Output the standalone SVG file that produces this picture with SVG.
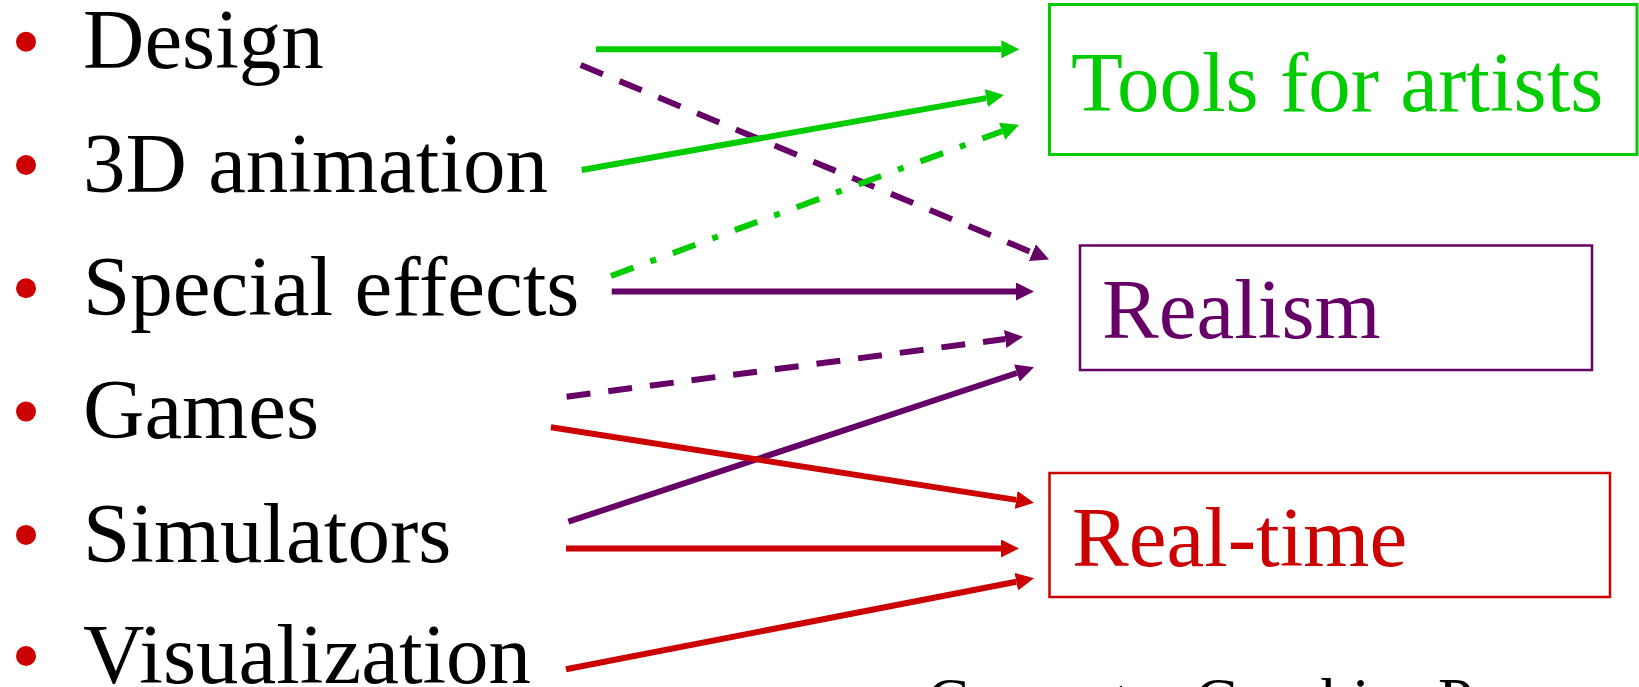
<svg xmlns="http://www.w3.org/2000/svg" width="1639" height="687" viewBox="0 0 1639 687">
  <style>
    .txt { font-size: 85px; }
    .item { fill: #000000; }
    .bullet { fill: #CC0000; }
    .box { fill: #FFFFFF; }
    .c { fill: none; stroke-width: 6; stroke-linecap: butt; }
    .green { stroke: #00CC00; }
    .purple { stroke: #660066; }
    .red { stroke: #CC0000; }
    .dash { stroke-dasharray: 24 18; }
    .dashdot { stroke-dasharray: 24 18 6 18; }
    .footer { font-size: 63px; fill: #000000; }
  </style>
  <defs>
    <marker id="arrow-green" viewBox="0 0 3 3" markerWidth="3" markerHeight="3" refX="0" refY="1.5" orient="auto" markerUnits="strokeWidth">
      <path d="M0,0 L3,1.5 L0,3 Z" fill="#00CC00"/>
    </marker>
    <marker id="arrow-purple" viewBox="0 0 3 3" markerWidth="3" markerHeight="3" refX="0" refY="1.5" orient="auto" markerUnits="strokeWidth">
      <path d="M0,0 L3,1.5 L0,3 Z" fill="#660066"/>
    </marker>
    <marker id="arrow-red" viewBox="0 0 3 3" markerWidth="3" markerHeight="3" refX="0" refY="1.5" orient="auto" markerUnits="strokeWidth">
      <path d="M0,0 L3,1.5 L0,3 Z" fill="#CC0000"/>
    </marker>
  </defs>

  <rect width="1639" height="687" fill="#FFFFFF"/>

  <!-- application areas (left column) -->
  <g id="design">
    <circle class="bullet" cx="26" cy="41.7" r="10"/>
    <text class="txt item" x="83" y="68.3" font-family="'Liberation Serif', serif">Design</text>
  </g>
  <g id="animation-3d">
    <circle class="bullet" cx="26" cy="165" r="10"/>
    <text class="txt item" x="83" y="191.6" font-family="'Liberation Serif', serif">3D animation</text>
  </g>
  <g id="special-effects">
    <circle class="bullet" cx="26" cy="288.3" r="10"/>
    <text class="txt item" x="83" y="314.9" font-family="'Liberation Serif', serif">Special effects</text>
  </g>
  <g id="games">
    <circle class="bullet" cx="26" cy="411.6" r="10"/>
    <text class="txt item" x="83" y="438.2" font-family="'Liberation Serif', serif">Games</text>
  </g>
  <g id="simulators">
    <circle class="bullet" cx="26" cy="534.9" r="10"/>
    <text class="txt item" x="83" y="561.5" font-family="'Liberation Serif', serif">Simulators</text>
  </g>
  <g id="visualization">
    <circle class="bullet" cx="26" cy="656" r="10"/>
    <text class="txt item" x="83" y="682.6" font-family="'Liberation Serif', serif">Visualization</text>
  </g>

  <!-- requirement boxes (right column) -->
  <g id="tools-for-artists">
    <rect class="box" x="1049.5" y="4.5" width="587.5" height="150" stroke="#00CC00" stroke-width="3"/>
    <text class="txt" x="1071" y="111" fill="#00CC00" font-family="'Liberation Serif', serif">Tools for artists</text>
  </g>
  <g id="realism">
    <rect class="box" x="1080" y="245.5" width="512" height="124.5" stroke="#660066" stroke-width="2.5"/>
    <text class="txt" x="1102" y="338" fill="#660066" font-family="'Liberation Serif', serif">Realism</text>
  </g>
  <g id="real-time">
    <rect class="box" x="1049.5" y="473" width="560.5" height="124" stroke="#CC0000" stroke-width="2.5"/>
    <text class="txt" x="1072" y="565.7" fill="#CC0000" font-family="'Liberation Serif', serif">Real-time</text>
  </g>

  <!-- connectors -->
  <g id="connectors">
    <line class="c green" x1="596" y1="49.3" x2="1001.3" y2="49.3" marker-end="url(#arrow-green)"/>
    <line class="c purple dash" x1="580.7" y1="65" x2="1032.4" y2="252.6" marker-end="url(#arrow-purple)"/>
    <line class="c green" x1="581.7" y1="170" x2="986.3" y2="98.1" marker-end="url(#arrow-green)"/>
    <line class="c green dashdot" x1="611" y1="276" x2="1002.1" y2="131.2" marker-end="url(#arrow-green)"/>
    <line class="c purple" x1="611.7" y1="291.5" x2="1016" y2="291.5" marker-end="url(#arrow-purple)"/>
    <line class="c purple dash" x1="566.6" y1="396.7" x2="1005.2" y2="339" marker-end="url(#arrow-purple)"/>
    <line class="c purple" x1="568.4" y1="521.7" x2="1016.9" y2="373" marker-end="url(#arrow-purple)"/>
    <line class="c red" x1="550.9" y1="427.3" x2="1016.2" y2="499.9" marker-end="url(#arrow-red)"/>
    <line class="c red" x1="566" y1="548.5" x2="1001" y2="548.5" marker-end="url(#arrow-red)"/>
    <line class="c red" x1="566" y1="669.3" x2="1016.3" y2="581.7" marker-end="url(#arrow-red)"/>
  </g>

  <!-- footer title, mostly below the lower edge -->
  <text class="footer" x="927" y="722" font-family="'Liberation Serif', serif">Computer Graphics P</text>
</svg>
